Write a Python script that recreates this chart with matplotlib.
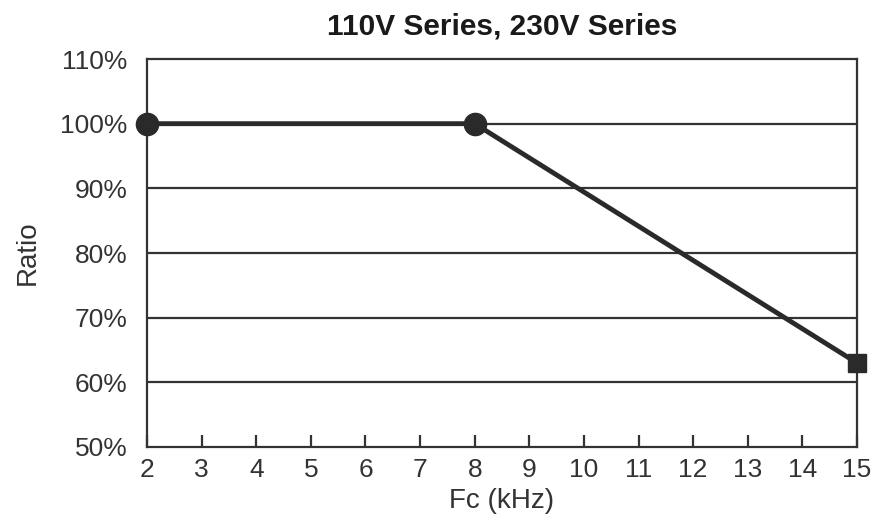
import matplotlib
matplotlib.use("Agg")
import matplotlib.pyplot as plt

# data
fc_khz = [2, 8, 15]
ratio = [100, 100, 63]
x_ticks = list(range(2, 16))
y_ticks = [50, 60, 70, 80, 90, 100, 110]
y_tick_labels = ["50%", "60%", "70%", "80%", "90%", "100%", "110%"]
markers = ["o", "o", "s"]

plt.rcParams['font.family'] = ['Liberation Sans', 'DejaVu Sans']
ink = "#333333"

fig = plt.figure(figsize=(8.72, 5.2), dpi=100)
ax = fig.add_axes([0.1686, 0.1404, 0.9828 - 0.1686, 0.8865 - 0.1404])

# horizontal grid lines
for y in y_ticks[1:-1]:
    ax.axhline(y, color=ink, lw=1.6, zorder=1)

ax.plot(fc_khz, ratio, color="#2a2a2a", lw=3.5, zorder=3)
for x, y, m in zip(fc_khz, ratio, markers):
    ax.plot(x, y, marker=m, ms=16 if m == "o" else 13.5, color="#2a2a2a",
            clip_on=False, zorder=4)

ax.set_xlim(2, 15)
ax.set_ylim(50, 110)
ax.set_xticks(x_ticks)
ax.set_xticklabels([str(t) for t in x_ticks])
ax.set_yticks(y_ticks)
ax.set_yticklabels(y_tick_labels)

ax.tick_params(axis="x", direction="in", length=9, width=1.6, color=ink,
               labelsize=19, labelcolor=ink, pad=8)
ax.tick_params(axis="y", length=0, labelsize=19, labelcolor=ink, pad=14)

for s in ax.spines.values():
    s.set_color(ink)
    s.set_linewidth(1.6)

ax.set_title("110V Series, 230V Series", fontsize=21.5, fontweight="bold",
             color="#1a1a1a", pad=18)
ax.set_xlabel("Fc (kHz)", fontsize=20, color=ink, labelpad=4)
ax.set_ylabel("Ratio", fontsize=20, color=ink, labelpad=14)

fig.savefig("out.png", dpi=100)
